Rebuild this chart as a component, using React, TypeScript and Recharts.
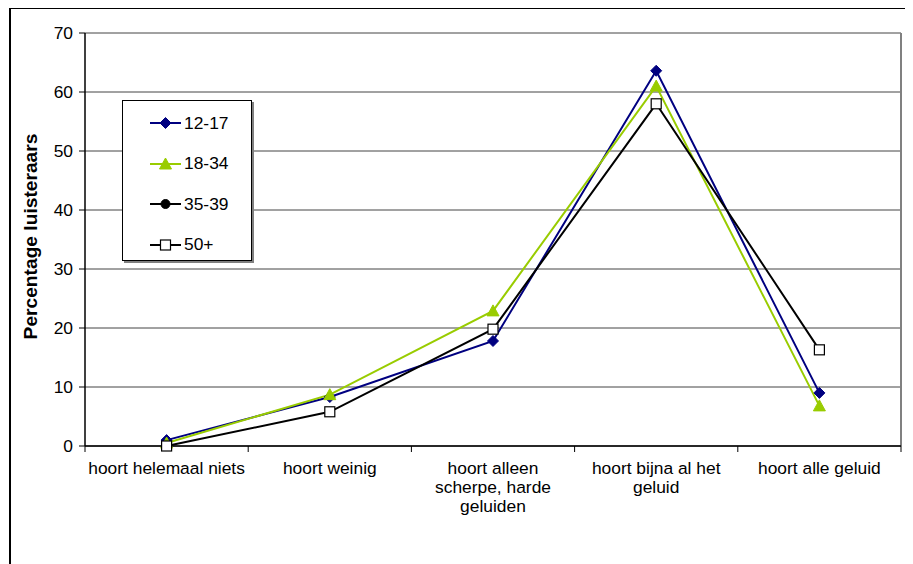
import React from 'react';
import {
  LineChart,
  Line,
  XAxis,
  YAxis,
  CartesianGrid,
  Legend,
  ReferenceLine,
} from 'recharts';

const categories = [
  'hoort helemaal niets',
  'hoort weinig',
  'hoort alleen\nscherpe, harde\ngeluiden',
  'hoort bijna al het\ngeluid',
  'hoort alle geluid',
];

const age12to17 = [1.0, 8.3, 17.8, 63.6, 9.0];
const age18to34 = [0.5, 8.7, 22.9, 61.0, 6.8];
const age35to39: (number | null)[] = [null, null, null, null, null];
const age50plus = [0.0, 5.8, 19.8, 58.0, 16.3];

const yTicks = [0, 10, 20, 30, 40, 50, 60, 70];

const FONT = '"Liberation Sans", Arial, sans-serif';
const TEXT_SIZE = 17.4;

// categories sit at half steps, category borders at whole steps
const data = categories.map((name, i) => ({
  x: i + 0.5,
  name,
  a: age12to17[i],
  b: age18to34[i],
  c: age35to39[i],
  d: age50plus[i],
}));

const xTicks = categories.flatMap((_, i) => [i, i + 0.5]).concat(categories.length);

const series = [
  { key: 'a', label: '12-17', color: '#000080', marker: 'diamond' },
  { key: 'b', label: '18-34', color: '#99CC00', marker: 'triangle' },
  { key: 'c', label: '35-39', color: '#000000', marker: 'circle' },
  { key: 'd', label: '50+', color: '#000000', marker: 'square' },
];

const Marker = ({ type, cx, cy, color }: { type: string; cx: number; cy: number; color: string }) => {
  if (type === 'diamond') {
    return (
      <path
        d={`M${cx},${cy - 5.5}L${cx + 5.5},${cy}L${cx},${cy + 5.5}L${cx - 5.5},${cy}Z`}
        fill={color}
        stroke={color}
        strokeWidth={1}
      />
    );
  }
  if (type === 'triangle') {
    return (
      <path
        d={`M${cx},${cy - 6}L${cx + 6},${cy + 5}L${cx - 6},${cy + 5}Z`}
        fill={color}
        stroke={color}
        strokeWidth={1}
      />
    );
  }
  if (type === 'circle') {
    return <circle cx={cx} cy={cy} r={4.5} fill={color} stroke={color} />;
  }
  return (
    <rect x={cx - 5} y={cy - 5} width={10} height={10} fill="#ffffff" stroke={color} strokeWidth={1.2} />
  );
};

const makeDot = (type: string, color: string) => (props: any) => {
  const { cx, cy, index } = props;
  if (cx == null || cy == null) return <g key={`e-${index}`} />;
  return (
    <g key={`${type}-${index}`}>
      <Marker type={type} cx={cx} cy={cy} color={color} />
    </g>
  );
};

const XTick = (props: any) => {
  const { x, y, payload } = props;
  const v = payload.value as number;
  if (Number.isInteger(v)) {
    return <line x1={x} y1={y} x2={x} y2={y + 6} stroke="#000" strokeWidth={1} />;
  }
  const lines = categories[Math.floor(v)].split('\n');
  return (
    <text x={x} y={y + 28} textAnchor="middle" fontSize={TEXT_SIZE} fontFamily={FONT} fill="#000">
      {lines.map((t, i) => (
        <tspan key={i} x={x} dy={i === 0 ? 0 : 19}>
          {t}
        </tspan>
      ))}
    </text>
  );
};

const LegendBox = () => (
  <div
    style={{
      width: 130,
      height: 161,
      border: '1px solid #000',
      boxShadow: '2px 2px 0 #808080',
      background: '#fff',
      boxSizing: 'border-box',
      paddingTop: 2,
    }}
  >
    {series.map((s) => (
      <div key={s.key} style={{ display: 'flex', alignItems: 'center', height: 40.5 }}>
        <svg width={60} height={20}>
          <line x1={27} y1={10} x2={58} y2={10} stroke={s.color} strokeWidth={2} />
          <Marker type={s.marker} cx={42.5} cy={10} color={s.color} />
        </svg>
        <span style={{ fontFamily: FONT, fontSize: TEXT_SIZE, color: '#000', marginLeft: 1 }}>{s.label}</span>
      </div>
    ))}
  </div>
);

export default function App() {
  return (
    <div style={{ position: 'relative', margin: -8, width: 913, height: 572, overflow: 'hidden', background: '#fff' }}>
      <div
        style={{
          position: 'absolute',
          left: 9,
          top: 6,
          width: 960,
          height: 600,
          borderLeft: '2px solid #000',
          borderTop: '3px solid #000',
        }}
      />
      <div style={{ position: 'absolute', left: 0, top: 0 }}>
        <LineChart width={913} height={564} data={data} margin={{ top: 33, right: 12, left: 0, bottom: 38 }}>
          <CartesianGrid vertical={false} stroke="#444" strokeWidth={1} />
          <XAxis
            dataKey="x"
            type="number"
            domain={[0, categories.length]}
            ticks={xTicks}
            interval={0}
            tickLine={false}
            tickSize={0}
            tickMargin={0}
            axisLine={{ stroke: '#000', strokeWidth: 1.5 }}
            height={80}
            tick={<XTick />}
          />
          <YAxis
            domain={[0, 70]}
            ticks={yTicks}
            interval={0}
            width={85}
            tickSize={6}
            tickMargin={6}
            axisLine={{ stroke: '#000', strokeWidth: 1.5 }}
            tickLine={{ stroke: '#000' }}
            tick={{ fill: '#000', fontSize: TEXT_SIZE, fontFamily: FONT }}
            label={{
              value: 'Percentage luisteraars',
              angle: -90,
              position: 'center',
              dx: -12,
              dy: -3,
              style: { fontFamily: FONT, fontSize: 19.2, fontWeight: 'bold', fill: '#000' },
            }}
          />
          <ReferenceLine x={categories.length} stroke="#808080" strokeWidth={2} />
          <Legend
            layout="vertical"
            align="center"
            verticalAlign="middle"
            wrapperStyle={{ left: 122, top: 100, width: 132, height: 163 }}
            content={() => <LegendBox />}
          />
          {series.map((s) => (
            <Line
              key={s.key}
              dataKey={s.key}
              stroke={s.color}
              strokeWidth={2}
              isAnimationActive={false}
              dot={makeDot(s.marker, s.color)}
              activeDot={false}
              connectNulls={false}
            />
          ))}
        </LineChart>
      </div>
    </div>
  );
}
